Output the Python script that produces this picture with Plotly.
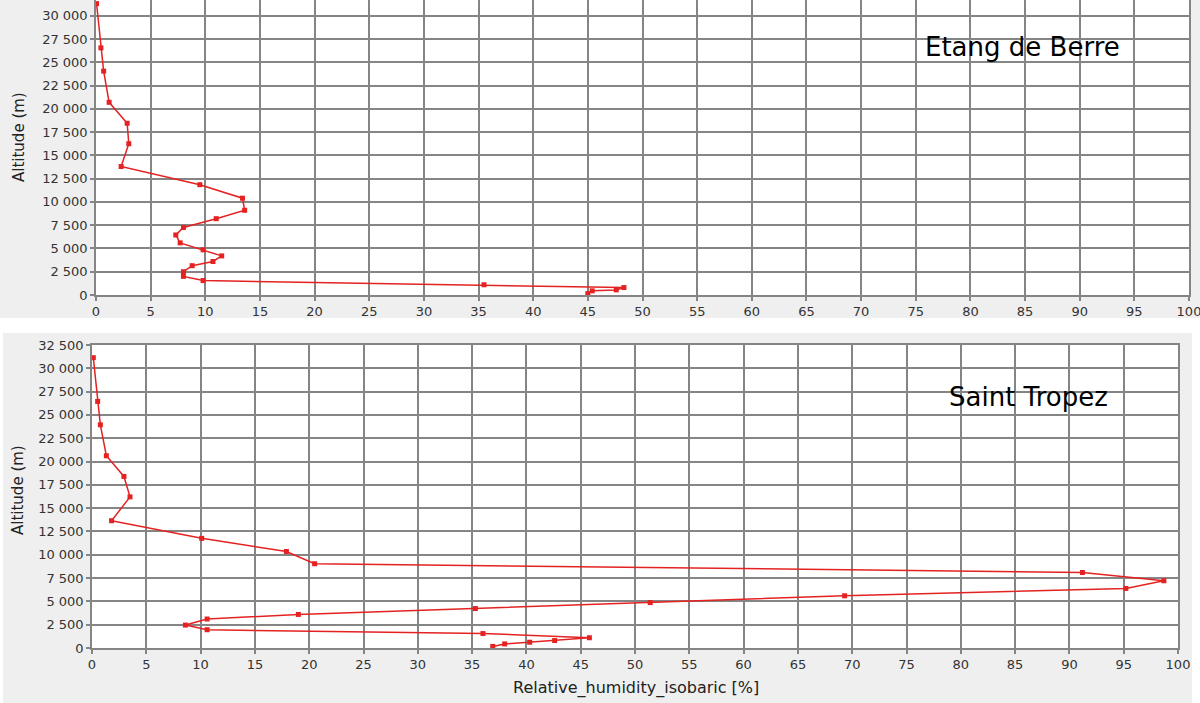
import plotly.graph_objects as go

# ---- données ----
x_ticks = list(range(0, 101, 5))
y_ticks = list(range(0, 32501, 2500))

# Etang de Berre
alt_berre = [31300, 26550, 24050, 20700, 18450, 16250, 13800, 11850, 10400, 9100,
             8200, 7250, 6450, 5600, 4850, 4200, 3600, 3150, 2500, 2000,
             1550, 1100, 800, 550, 450, 150]
rh_berre = [0.05, 0.45, 0.7, 1.2, 2.85, 3.0, 2.3, 9.5, 13.4, 13.6,
            11.0, 8.0, 7.3, 7.7, 9.8, 11.5, 10.7, 8.8, 8.0, 8.0,
            9.8, 35.5, 48.3, 47.6, 45.4, 45.0]

# Saint Tropez
alt_tropez = [31140, 26450, 23940, 20620, 18400, 16210, 13650, 11760, 10350, 9040,
              8100, 7210, 6390, 5600, 4870, 4230, 3600, 3110, 2460, 1960,
              1550, 1100, 800, 620, 440, 170]
rh_tropez = [0.12, 0.52, 0.77, 1.32, 2.94, 3.5, 1.8, 10.1, 17.9, 20.5,
             91.2, 98.7, 95.2, 69.3, 51.4, 35.3, 19.0, 10.6, 8.6, 10.6,
             36.0, 45.8, 42.6, 40.3, 38.0, 36.9]

W, H = 1200, 703
RED = "#e52222"
GRID = "#858585"
TICKFONT = dict(family="DejaVu Sans", size=13, color="#333333")


def px_x(p):
    return p / W


def px_y(p):
    return 1 - p / H


fig = go.Figure()

fig.add_trace(go.Scatter(
    x=rh_berre, y=alt_berre, mode="lines+markers",
    line=dict(color=RED, width=1.5),
    marker=dict(symbol="square", size=5, color=RED),
    xaxis="x", yaxis="y", showlegend=False,
))
fig.add_trace(go.Scatter(
    x=rh_tropez, y=alt_tropez, mode="lines+markers",
    line=dict(color=RED, width=1.5),
    marker=dict(symbol="square", size=5, color=RED),
    xaxis="x2", yaxis="y2", showlegend=False,
))

axis_common = dict(
    showgrid=True, gridcolor=GRID, gridwidth=1.5,
    showline=True, linecolor=GRID, linewidth=1.5, mirror=True,
    ticks="outside", ticklen=4, tickcolor=GRID, tickwidth=1.5,
    tickfont=TICKFONT, zeroline=False, automargin=False,
    ticklabeloverflow="allow",
)

fig.update_layout(
    width=W, height=H,
    margin=dict(l=0, r=0, t=0, b=0),
    paper_bgcolor="#efefef",
    plot_bgcolor="white",
    separators=". ",
    xaxis=dict(domain=[px_x(96), px_x(1189)], range=[0, 100], tickvals=x_ticks,
               anchor="y", **axis_common),
    yaxis=dict(domain=[px_y(295), 1], range=[0, 31690], tickvals=y_ticks,
               tickformat=",d", separatethousands=True, anchor="x", **axis_common),
    xaxis2=dict(domain=[px_x(92), px_x(1178)], range=[0, 100], tickvals=x_ticks,
                anchor="y2", **axis_common),
    yaxis2=dict(domain=[px_y(648), px_y(345)], range=[0, 32500], tickvals=y_ticks,
                tickformat=",d", separatethousands=True, anchor="x2", **axis_common),
)

# bandes blanches entre les deux panneaux
for x0, y0, x1, y1 in [(0, 318, 1200, 333), (0, 333, 3, 703), (1192, 333, 1200, 703)]:
    fig.add_shape(type="rect", xref="paper", yref="paper",
                  x0=px_x(x0), x1=px_x(x1), y0=px_y(y1), y1=px_y(y0),
                  fillcolor="white", line=dict(width=0), layer="below")

annots = [
    dict(text="Etang de Berre", x=px_x(1022), y=px_y(47),
         font=dict(family="DejaVu Sans", size=26, color="black")),
    dict(text="Saint Tropez", x=px_x(1028), y=px_y(397),
         font=dict(family="DejaVu Sans", size=26, color="black")),
    dict(text="Altitude (m)", x=px_x(19), y=px_y(137), textangle=-90,
         font=dict(family="DejaVu Sans", size=15, color="#222222")),
    dict(text="Altitude (m)", x=px_x(18), y=px_y(490), textangle=-90,
         font=dict(family="DejaVu Sans", size=15, color="#222222")),
    dict(text="Relative_humidity_isobaric [%]", x=px_x(636), y=px_y(688),
         font=dict(family="DejaVu Sans", size=16, color="#222222")),
]
for a in annots:
    fig.add_annotation(xref="paper", yref="paper", showarrow=False,
                       xanchor="center", yanchor="middle", **a)

# la page par défaut a une marge de 8 px sur le body
fig.write_html("out.html", config={"displayModeBar": False},
               post_script="document.body.style.margin = '0';")
